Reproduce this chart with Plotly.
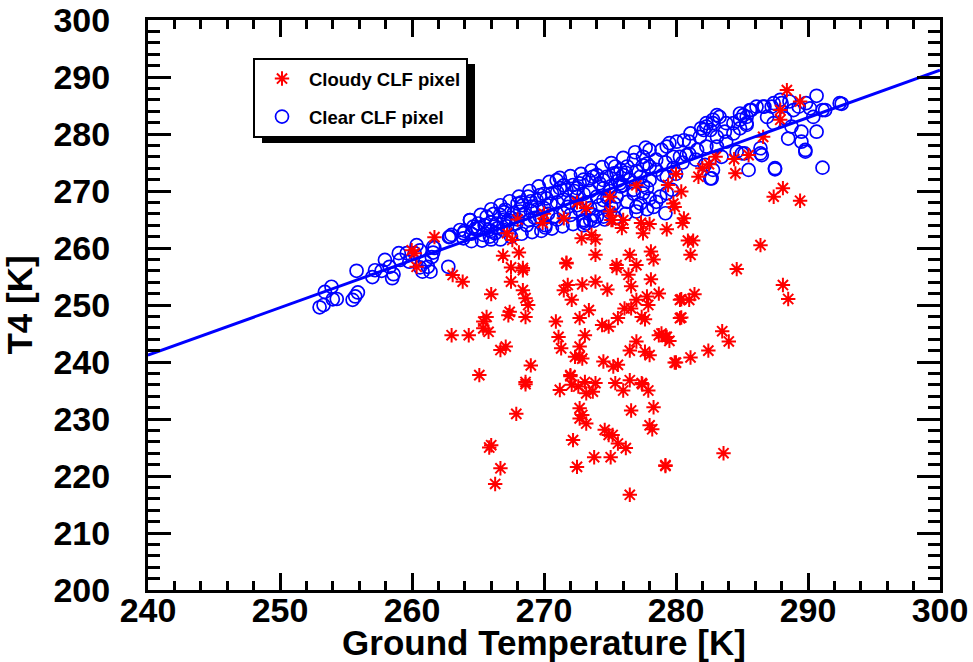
import plotly.graph_objects as go

# Clear CLF pixels (blue open circles): ground temperature [K], T4 [K]
clear_tg = [
    253.0, 253.3, 253.4, 253.9, 254.0, 254.3, 255.5, 255.7, 255.9, 255.8,
    257.0, 257.2, 257.7, 257.95, 258.5, 258.6, 258.3, 259.0, 259.1, 259.6,
    259.8, 260.35, 260.2, 260.6, 260.8, 261.4, 261.2, 261.5, 261.6, 261.7,
    262.75, 262.8, 263.0, 263.9, 260.6, 261.6, 261.0,
    262.88, 263.64, 263.89, 264.64, 264.39, 265.02, 265.66, 265.78, 265.9, 266.4,
    266.67, 267.05, 267.3, 267.7, 268.2, 268.4, 268.8, 269.07, 269.45, 269.7,
    270.2, 270.6, 270.96, 271.2, 271.7, 272.2, 272.7, 273.4, 273.7, 274.2,
    274.75, 275.4, 275.5, 275.76, 265.4, 266.3, 266.9, 267.9, 268.7, 268.9,
    269.7, 270.1, 270.7, 271.5, 272.0, 272.7, 273.0, 273.2, 273.7, 274.5,
    275.1, 275.5,
    264.0, 264.5, 265.0, 265.5, 266.0, 266.5, 267.0, 267.5, 268.0, 268.5,
    269.0, 269.5, 270.0, 270.5, 271.0, 271.5, 272.0, 272.5, 273.0, 273.5,
    274.0, 274.5, 275.0, 276.0, 270.3, 271.8, 272.3, 273.2, 274.2, 268.3,
    269.3, 267.2, 266.2,
    270.1, 273.0, 273.5, 275.0, 274.0, 277.3, 278.5, 279.2,
    290.65, 292.4, 291.1, 290.15, 289.85, 289.3, 290.4, 289.5, 290.65, 289.5,
    289.8, 288.5, 287.5, 291.1, 288.75, 288.25, 287.4, 288.0, 288.6, 288.9,
    286.7, 286.1, 285.7, 285.35, 284.85, 285.35, 286.9, 287.4, 283.1, 283.8,
    284.35, 282.3, 282.8, 282.6, 282.1, 283.1, 283.7, 284.35, 284.85, 285.35,
    281.8, 281.1, 281.0, 280.6, 280.05, 279.5, 279.3, 278.9, 278.0, 279.8,
    280.3, 280.8, 281.6, 282.3, 283.1, 283.8, 284.6, 285.2, 286.4, 286.5,
    282.8, 282.7, 282.2, 283.45, 285.5, 277.5, 276.8, 276.3, 275.8, 275.3,
    278.0, 278.5, 279.0, 278.0, 277.3, 279.3, 278.8, 278.0, 277.5, 276.8,
    275.8, 275.05, 274.5, 274.5, 275.3, 276.3, 277.0, 278.3,
    282.6, 287.5, 289.8, 285.0, 286.4, 279.3, 279.7, 287.9, 287.25, 286.6,
    285.6, 285.1, 284.85, 283.3, 282.8, 282.3, 281.9, 291.3, 292.55,
    276.5, 277.0, 277.8, 278.5, 279.2, 279.8, 280.5, 281.0, 280.0, 281.5,
    276.0, 277.5,
    264.4, 265.2, 266.0, 266.7, 267.4, 268.1, 268.9, 269.6, 270.4, 271.2,
    272.0, 272.8, 273.6, 274.4, 275.1, 276.0, 276.9, 277.7,
    264.5, 265.3, 266.0, 266.7, 267.5, 268.3, 269.1, 269.8, 270.6, 271.4,
    272.2, 273.0, 273.8, 274.6, 275.4, 276.2, 277.0, 277.8,
    264.8, 266.0, 267.0, 268.0, 269.0, 270.0, 271.0, 271.5, 272.5, 273.0,
    273.5, 274.0, 274.8, 275.6, 276.2, 276.8, 277.5, 277.8, 271.0, 272.5,
]
clear_t4 = [
    249.6, 250.0, 252.3, 253.2, 251.0, 251.05, 250.9, 251.5, 252.2, 256.0,
    254.9, 256.1, 256.0, 257.9, 254.7, 255.4, 256.7, 259.1, 257.9, 259.1,
    257.6, 260.5, 259.1, 256.6, 255.85, 255.85, 256.7, 258.4, 259.2, 260.0,
    256.7, 261.9, 262.3, 262.6, 259.6, 260.2, 257.6,
    261.98, 263.16, 261.7, 263.74, 264.9, 264.3, 265.5, 263.16, 262.0, 264.3,
    265.8, 266.7, 264.9, 266.1, 266.4, 267.5, 269.0, 267.25, 268.4, 269.3,
    268.7, 269.6, 271.9, 270.5, 270.2, 271.05, 271.35, 271.9, 272.5, 271.35,
    272.5, 274.3, 273.1, 271.35, 262.3, 262.6, 263.2, 264.3, 264.0, 264.9,
    265.5, 264.0, 265.5, 266.1, 265.8, 266.7, 264.9, 264.3, 265.8, 265.5,
    267.25, 269.0,
    263.0, 262.5, 263.5, 264.0, 264.5, 263.5, 265.0, 265.3, 265.0, 266.0,
    266.5, 266.8, 267.0, 267.8, 268.0, 268.5, 268.0, 269.0, 269.5, 270.0,
    269.0, 270.5, 270.0, 271.0, 266.0, 267.2, 270.0, 268.0, 267.5, 268.0,
    265.3, 263.8, 266.0,
    263.6, 264.6, 264.9, 266.2, 265.5, 267.8, 268.1, 266.1,
    286.7, 285.4, 284.2, 284.5, 285.4, 284.8, 283.0, 280.4, 280.4, 278.65,
    277.2, 279.2, 274.0, 274.1, 281.3, 282.75, 285.4, 285.4, 285.7, 284.2,
    284.8, 284.8, 284.2, 283.0, 283.6, 281.9, 283.0, 281.9, 283.3, 281.9,
    281.9, 281.9, 281.9, 280.7, 280.7, 279.5, 280.4, 280.1, 281.0, 281.6,
    279.5, 280.1, 278.65, 278.9, 278.65, 278.4, 277.8, 277.2, 277.2, 276.0,
    276.0, 276.3, 277.2, 277.8, 277.8, 278.65, 276.9, 276.6, 277.5, 276.3,
    273.7, 272.2, 274.6, 276.0, 273.7, 276.0, 275.4, 274.3, 273.7, 273.1,
    274.3, 273.7, 272.8, 271.9, 272.5, 269.6, 269.0, 268.7, 269.6, 270.2,
    270.8, 270.8, 271.9, 268.4, 267.8, 268.1, 267.2, 267.2,
    272.2, 273.8, 276.9, 276.6, 276.6, 272.5, 270.2, 286.0, 284.8, 284.8,
    284.2, 283.3, 282.5, 283.0, 282.5, 281.3, 281.0, 284.2, 285.3,
    272.0, 273.5, 274.8, 275.5, 275.0, 274.0, 275.0, 276.5, 273.0, 275.5,
    272.8, 271.0,
    264.9, 265.8, 266.8, 267.5, 268.2, 269.0, 270.0, 270.8, 271.6, 272.3,
    272.6, 273.0, 273.6, 274.2, 274.9, 275.8, 276.8, 277.6,
    261.2, 261.3, 261.5, 261.5, 262.0, 262.5, 262.8, 263.0, 263.4, 263.8,
    264.2, 264.0, 264.8, 265.0, 265.3, 266.0, 266.4, 266.8,
    263.4, 263.0, 266.3, 267.8, 268.2, 269.5, 269.8, 271.0, 270.5, 272.0,
    267.0, 272.8, 268.8, 271.8, 273.2, 269.5, 274.5, 270.5, 265.0, 267.5,
]

# Cloudy CLF pixels (red asterisks)
cloudy_tg = [
    263.08, 263.84, 266.9, 268.1, 267.5, 268.4, 267.5, 266.0, 268.4, 268.6,
    268.8, 267.4, 267.3, 268.6, 265.65, 265.4, 265.4, 265.8, 263.0, 264.3,
    266.7, 267.1, 269.0, 265.1, 268.6, 267.2, 267.6, 271.7, 273.9, 272.85,
    273.6, 273.9, 275.5, 275.5, 276.5, 277.0, 276.4, 278.1, 278.3, 277.35,
    278.0, 275.9, 277.5, 279.3, 275.2, 276.0, 278.1, 276.6, 274.8, 273.9,
    272.9, 271.8, 271.5, 272.1, 273.4, 272.7, 270.9, 274.4, 274.9, 275.6,
    276.1, 276.6, 277.0, 277.8, 277.9, 278.7, 277.4, 277.65, 271.1, 271.3,
    273.1, 272.7, 272.35, 272.7, 272.9, 274.5, 275.25, 275.6, 276.5, 277.0,
    277.65, 278.0, 278.7, 279.3, 279.5, 279.9, 276.5, 277.4, 277.9, 275.4,
    276.0, 273.9, 273.1, 272.0, 271.2, 272.6, 273.2, 273.7, 280.3, 280.3,
    268.6, 267.9, 265.85, 266.0, 266.7, 266.3, 272.0, 272.1, 277.45, 272.7,
    272.9, 273.2, 272.7, 276.6, 278.3, 278.0, 278.2, 274.6, 274.9, 275.2,
    275.6, 276.2, 272.2, 273.8, 275.05, 272.5, 279.2, 276.5,
    280.4, 279.8, 279.9, 280.6, 280.5, 281.7, 282.0, 282.5, 284.5, 284.4,
    285.5, 287.4, 288.1, 289.4, 280.9, 281.3, 281.1, 286.4, 284.6, 280.4,
    281.0, 281.4, 280.4, 288.1, 288.5, 278.9, 279.2, 283.5, 284.0, 282.45,
    281.1, 280.0, 283.6, 279.2, 261.7, 259.98, 260.2, 260.35, 288.4, 289.4,
    286.6, 287.9, 287.9, 279.4, 269.9, 271.5, 273.2, 275.0, 275.1, 271.7,
    268.4, 272.5, 275.0, 277.0, 280.0, 283.0, 270.0, 268.0,
]
cloudy_t4 = [
    255.26, 254.1, 258.65, 259.2, 256.6, 256.1, 254.1, 251.9, 252.6, 251.2,
    250.0, 248.8, 248.2, 247.9, 247.9, 247.1, 245.9, 245.3, 244.7, 244.7,
    242.1, 242.7, 239.4, 237.7, 236.5, 262.6, 261.4, 257.4, 258.8, 261.7,
    262.3, 261.5, 257.0, 256.5, 258.8, 257.0, 255.3, 259.4, 258.0, 264.4,
    264.2, 263.5, 262.6, 263.3, 264.9, 264.9, 254.5, 253.3, 252.7, 254.1,
    253.6, 253.5, 252.6, 250.9, 249.1, 247.7, 247.1, 246.5, 246.2, 247.7,
    249.4, 249.4, 250.9, 251.5, 250.0, 252.0, 247.9, 247.5, 244.4, 242.4,
    244.7, 242.7, 240.9, 241.0, 240.6, 240.1, 239.2, 239.5, 242.0, 243.6,
    241.8, 241.2, 244.7, 244.4, 243.7, 239.9, 236.8, 236.3, 235.0, 236.3,
    235.0, 236.3, 236.5, 237.7, 235.1, 235.7, 234.5, 234.8, 250.9, 247.7,
    236.1, 230.9, 225.0, 225.4, 221.35, 218.6, 237.5, 236.0, 236.1, 231.9,
    230.7, 229.2, 230.1, 231.5, 232.05, 228.9, 228.2, 228.1, 227.2, 227.2,
    225.7, 224.9, 226.3, 223.3, 223.3, 221.6, 221.75, 216.7,
    269.9, 267.8, 267.2, 265.2, 264.4, 272.5, 274.0, 274.7, 273.1, 275.6,
    276.3, 269.0, 270.5, 268.3, 261.3, 261.3, 258.8, 260.5, 256.3, 251.0,
    250.9, 251.9, 247.8, 253.5, 251.05, 245.0, 244.4, 245.4, 243.6, 242.0,
    240.8, 239.9, 224.0, 221.9, 261.9, 259.6, 259.1, 256.7, 287.7, 285.7,
    279.5, 284.2, 282.5, 271.05, 264.4, 265.2, 267.0, 266.4, 264.9, 257.3,
    256.5, 268.0, 269.0, 271.0, 273.0, 276.0, 266.0, 265.0,
]

# Fitted line end points
fit_tg = [240.0, 300.0]
fit_t4 = [241.2, 291.2]

x_range = [240, 300]
y_range = [200, 300]
x_title = "Ground Temperature [K]"
y_title = "T4 [K]"

FONT = "Liberation Sans, Arial, Helvetica, sans-serif"

fig = go.Figure()
fig.add_trace(go.Scatter(
    x=clear_tg, y=clear_t4, mode="markers", name="Clear CLF pixel",
    legendgroup="b", legendrank=2,
    marker=dict(symbol="circle-open", size=13, color="#0000ff",
                line=dict(color="#0000ff", width=1.7)),
))
fig.add_trace(go.Scatter(
    x=cloudy_tg, y=cloudy_t4, mode="markers", name="Cloudy CLF pixel",
    legendgroup="a", legendrank=1,
    marker=dict(symbol="asterisk-open", size=12, color="#ff0000",
                line=dict(color="#ff0000", width=2)),
))
fig.add_trace(go.Scatter(
    x=fit_tg, y=fit_t4, mode="lines", showlegend=False,
    line=dict(color="#0000ff", width=3),
))

axis_common = dict(
    showgrid=False, zeroline=False, showline=True, linecolor="black",
    linewidth=3, mirror="ticks", ticks="inside", tickcolor="black",
    tickwidth=2.5, dtick=10, automargin=False,
    tickfont=dict(family=FONT, size=34, color="black", weight="bold"),
)

fig.update_xaxes(
    range=x_range, tick0=240, ticklen=17,
    minor=dict(dtick=2, ticklen=9, ticks="inside", tickcolor="black", tickwidth=2.5),
    title=dict(text=x_title, standoff=2,
               font=dict(family=FONT, size=35, color="black", weight="bold")),
    ticklabelstandoff=-12,
    **axis_common,
)
fig.update_yaxes(
    range=y_range, tick0=200, ticklen=23,
    minor=dict(dtick=2, ticklen=12, ticks="inside", tickcolor="black", tickwidth=2.5),
    title=dict(text=y_title, standoff=14,
               font=dict(family=FONT, size=35, color="black", weight="bold")),
    ticklabelstandoff=28,
    **axis_common,
)

fig.update_layout(
    width=973, height=662,
    margin=dict(l=148, r=33, t=20, b=72),
    plot_bgcolor="white", paper_bgcolor="white",
    legend=dict(
        x=(253 - 148) / 792, y=(590 - 58) / 570, xanchor="left", yanchor="top",
        bgcolor="white", bordercolor="black", borderwidth=2,
        font=dict(family=FONT, size=18.5, color="black", weight="bold"),
        traceorder="grouped", tracegroupgap=11, itemwidth=44,
    ),
    shapes=[dict(
        type="rect", xref="paper", yref="paper", layer="above",
        x0=(262 - 148) / 792, x1=(475 - 148) / 792,
        y0=(590 - 143) / 570, y1=(590 - 64) / 570,
        fillcolor="black", line=dict(width=0),
    )],
)

fig.write_html("out.html", post_script="document.body.style.margin='0px';",
               config={"displayModeBar": False})
